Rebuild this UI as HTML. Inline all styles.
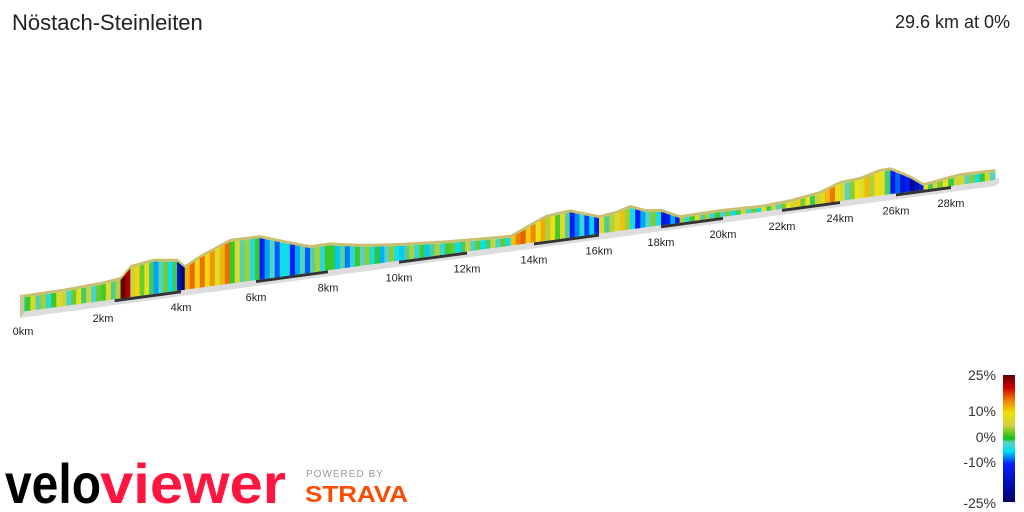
<!DOCTYPE html>
<html><head><meta charset="utf-8"><style>
body{margin:0;width:1024px;height:512px;background:#fff;overflow:hidden;font-family:"Liberation Sans",sans-serif}
svg{position:absolute;left:0;top:0}
</style></head><body>
<svg width="1024" height="512">
<defs><linearGradient id="lg" x1="0" y1="1" x2="0" y2="0">
<stop offset="0" stop-color="#00006a"/><stop offset="0.3" stop-color="#0020ff"/><stop offset="0.4" stop-color="#00e0f0"/><stop offset="0.47" stop-color="#60d0c0"/><stop offset="0.5" stop-color="#10c010"/><stop offset="0.6" stop-color="#d0d040"/><stop offset="0.7" stop-color="#f0e000"/><stop offset="0.8" stop-color="#f08000"/><stop offset="0.9" stop-color="#d00000"/><stop offset="1" stop-color="#600000"/></linearGradient></defs>
<text x="12" y="30" font-size="22" fill="#222">Nöstach-Steinleiten</text>
<text x="1010" y="28" font-size="18" fill="#222" text-anchor="end">29.6 km at 0%</text>
<g id="prof"></g>
<g id="ticks"></g>
<rect x="1003" y="375" width="12" height="127" fill="url(#lg)"/>
<g font-size="14" fill="#333" text-anchor="end">
<text x="996" y="380">25%</text><text x="996" y="416">10%</text><text x="996" y="442">0%</text><text x="996" y="467">-10%</text><text x="996" y="508">-25%</text></g>
<g><text x="5" y="503" font-size="56" font-weight="bold" fill="#000" textLength="96" lengthAdjust="spacingAndGlyphs">velo</text><text x="100" y="503" font-size="56" font-weight="bold" fill="#ff1540" textLength="186" lengthAdjust="spacingAndGlyphs">viewer</text></g>
<text x="306" y="477" font-size="10" fill="#999" letter-spacing="1">POWERED BY</text>
<text x="305" y="502" font-size="23" font-weight="bold" fill="#fc4c02" textLength="103" lengthAdjust="spacingAndGlyphs">STRAVA</text>
</svg>
<script>
const distKm=[0,1,1.95,2.45,2.7,3.3,3.9,4.1,4.5,5.3,6.1,6.8,7.5,8.05,8.9,10,11.5,13.3,13.6,14.35,15.1,16,16.5,17,17.5,18,18.6,19.9,21.3,22.3,23.3,24,24.7,25.4,25.8,26.5,27,27.5,28.3,29.6];
const elevM=[370,373,384,397,453,472,456,417,461,531,533,487,442,444,413,389,367,350,380,451,470,405,418,449,407,395,333,338,329,343,377,437,450,496,500,414,330,347,376,373];
const tickKm=[0,2,4,6,8,10,12,14,16,18,20,22,24,26,28];
const tickLabels=["0km","2km","4km","6km","8km","10km","12km","14km","16km","18km","20km","22km","24km","26km","28km"];
const TK=[0,2,4,6,8,10,12,14,16,18,20,22,24,26,28,29.6],TX=[20,103,181,256,328,399,467,534,599,661,723,782,840,896,951,995];
function xOf(k){for(let i=0;i<TK.length-1;i++){if(k<=TK[i+1]){return TX[i]+(k-TK[i])/(TK[i+1]-TK[i])*(TX[i+1]-TX[i]);}}return TX[TX.length-1];}
function baseY(x){return 312-0.1354*(x-20);}
function sc(x){return 1-0.45*(x-20)/975;}
function topY(k,e){const x=xOf(k);return baseY(x)-(e-300)/5*sc(x);}
function col(g){const st=[[-25,[0,0,106]],[-10,[0,32,255]],[-5,[0,224,240]],[-2,[96,208,192]],[0,[40,200,40]],[3,[200,210,60]],[6,[240,230,20]],[12,[240,128,0]],[18,[208,0,0]],[25,[96,0,0]]];g=Math.max(-25,Math.min(25,g));for(let i=0;i<st.length-1;i++){if(g<=st[i+1][0]){const t=(g-st[i][0])/(st[i+1][0]-st[i][0]);const a=st[i][1],b=st[i+1][1];return `rgb(${a.map((v,j)=>Math.round(v+(b[j]-v)*t)).join(',')})`;}}return 'rgb(96,0,0)';}
const NS='http://www.w3.org/2000/svg',P=document.getElementById('prof');
function poly(pts,fill,name){const p=document.createElementNS(NS,'polygon');p.setAttribute('points',pts.map(q=>q.join(',')).join(' '));p.setAttribute('fill',fill);


P.appendChild(p);}
const x0=xOf(0),x1=xOf(29.6);
poly([[x0,baseY(x0)],[x1,baseY(x1)],[x1+4,baseY(x1)-3],[x1+4,baseY(x1)+3],[x1,baseY(x1)+6],[x0,baseY(x0)+6]],'#ddd','base-strip');
for(let k=2;k<28;k+=4){const a=xOf(k+(k==2?0.3:0)),b=xOf(k+2);poly([[a,baseY(a)],[b,baseY(b)],[b,baseY(b)+3],[a,baseY(a)+3]],'#333','km-bar');}
for(let i=0;i<distKm.length-1;i++){
 const g=(elevM[i+1]-elevM[i])/((distKm[i+1]-distKm[i])*1000)*100;
 const n=Math.max(1,Math.round((xOf(distKm[i+1])-xOf(distKm[i]))/5));
 for(let j=0;j<n;j++){
  const ka=distKm[i]+(distKm[i+1]-distKm[i])*j/n,kb=distKm[i]+(distKm[i+1]-distKm[i])*(j+1)/n;
  const ea=elevM[i]+(elevM[i+1]-elevM[i])*j/n,eb=elevM[i]+(elevM[i+1]-elevM[i])*(j+1)/n;
  const xa=xOf(ka),xb=xOf(kb);
  const gg=g+((j*7+i*3)%5-2)*2;
  poly([[xa,topY(ka,ea)-3],[xb+0.5,topY(kb,eb)-3],[xb+0.5,topY(kb,eb)],[xa,topY(ka,ea)]],'#c8c070','top-face');
  poly([[xa,topY(ka,ea)],[xb+0.5,topY(kb,eb)],[xb+0.5,baseY(xb)],[xa,baseY(xa)]],col(gg),'gradient-segment');
 }
}
poly([[x0,topY(0,elevM[0])-3],[x0+4,topY(0,elevM[0])-3],[x0+4,baseY(x0)],[x0,baseY(x0)+6]],'#c8c890','start-face');
const T=document.getElementById('ticks');
tickKm.forEach((k,i)=>{const x=xOf(k);const t=document.createElementNS(NS,'text');t.setAttribute('x',x+(i==0?3:0));t.setAttribute('y',baseY(x)+(i==0?23:21));t.setAttribute('font-size','11');t.setAttribute('fill','#222');t.setAttribute('text-anchor','middle');t.textContent=tickLabels[i];


T.appendChild(t);});
</script>
</body></html>
